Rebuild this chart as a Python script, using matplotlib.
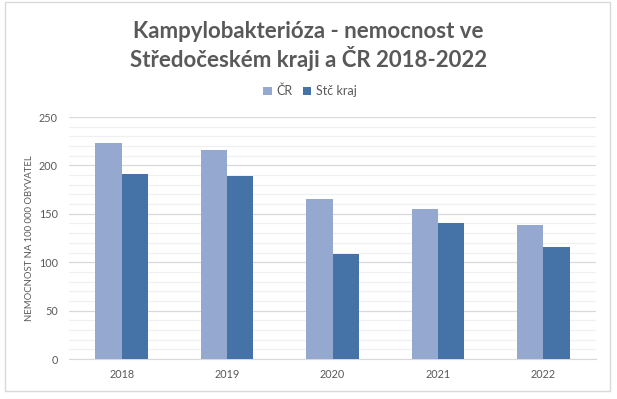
import numpy as np
import matplotlib.pyplot as plt
from matplotlib.patches import Rectangle

# data
years = ["2018", "2019", "2020", "2021", "2022"]
cr = [223, 216, 165, 155, 138]
stc = [191, 189, 108, 141, 116]
series_names = ["ČR", "Stč kraj"]
title_lines = ["Kampylobakterióza - nemocnost ve", "Středočeském kraji a ČR 2018-2022"]

plt.rcParams['font.family'] = ['Lato', 'DejaVu Sans']
text_col = "#595959"

W, H = 617, 399
fig = plt.figure(figsize=(W / 100, H / 100), dpi=100)

# chart border
fig.patches.append(Rectangle((5 / W, 1 - 391 / H), 605 / W, 389 / H,
                             transform=fig.transFigure, fill=False,
                             edgecolor="#D9D9D9", linewidth=1))

ax = fig.add_axes([69 / W, 1 - 359 / H, (596 - 69) / W, (359 - 117) / H])

x = np.arange(len(years))
w = 0.25
ax.bar(x - w / 2, cr, w, color="#95A9D0", label=series_names[0], zorder=3)
ax.bar(x + w / 2, stc, w, color="#4573A8", label=series_names[1], zorder=3)

ax.set_xlim(-0.5, len(years) - 0.5)
ax.set_ylim(0, 250)
ax.set_yticks(np.arange(0, 251, 50))
ax.set_yticks(np.arange(0, 251, 10), minor=True)
ax.grid(axis="y", which="major", color="#D9D9D9", linewidth=0.9, zorder=0)
ax.grid(axis="y", which="minor", color="#F0F0F0", linewidth=0.9, zorder=0)
ax.set_xticks(x)
ax.set_xticklabels(years)
ax.tick_params(axis="both", which="both", length=0, colors=text_col, labelsize=7.8)
ax.tick_params(axis="y", pad=8)
ax.tick_params(axis="x", pad=7)
for s in ["top", "right", "left"]:
    ax.spines[s].set_visible(False)
ax.spines["bottom"].set_color("#D9D9D9")

ax.set_ylabel("NEMOCNOST NA 100 000 OBYVATEL", color=text_col, fontsize=6.8)
ax.yaxis.set_label_coords((34 - 69) / 527, 0.5)

# title, two lines placed on their baselines
for line, base in zip(title_lines, [38, 67]):
    fig.text(0.5, 1 - base / H, line, ha="center", va="baseline",
             fontsize=16, fontweight="bold", color=text_col)

fig.legend(loc="center", bbox_to_anchor=(310 / W, 1 - 91 / H), ncol=2, frameon=False,
           fontsize=9, labelcolor=text_col, handlelength=0.7, handleheight=0.7,
           handletextpad=0.4, columnspacing=0.8)

fig.savefig("out.png", dpi=100)
